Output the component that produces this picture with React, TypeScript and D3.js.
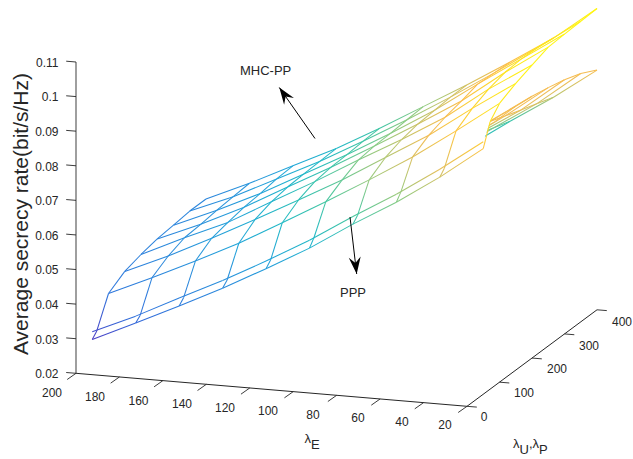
import React from "react";
import * as d3 from "d3";

const lambdaE = [200, 180, 160, 140, 120, 100, 80, 60, 40, 20];
const eTicks = lambdaE;
const uTicks = [0, 100, 200, 300, 400];
const zTicks = [0.02, 0.03, 0.04, 0.05, 0.06, 0.07, 0.08, 0.09, 0.1, 0.11];

// MHC-PP surface, one list per lambda_U,lambda_P row, ordered as lambdaE
const rowU100 = [0.0361, 0.0417, 0.0476, 0.0538, 0.0608, 0.0679, 0.0753, 0.083, 0.0916, 0.1006];
const rowU150 = [0.039, 0.0445, 0.0507, 0.0572, 0.0639, 0.0707, 0.0783, 0.0858, 0.0946, 0.1029];
const rowU200 = [0.0404, 0.0463, 0.0518, 0.0588, 0.0657, 0.073, 0.08, 0.0875, 0.0967, 0.1047];
const rowU250 = [0.0414, 0.0467, 0.0527, 0.0596, 0.0664, 0.0736, 0.081, 0.0887, 0.098, 0.1064];
const rowU300 = [0.0419, 0.0473, 0.0532, 0.0599, 0.0666, 0.0738, 0.0814, 0.0901, 0.0984, 0.1067];
const rowU350 = [0.0425, 0.0477, 0.0539, 0.0601, 0.067, 0.0742, 0.0818, 0.0898, 0.0982, 0.1069];
const rowU400 = [0.0425, 0.0481, 0.0542, 0.0603, 0.0672, 0.0745, 0.0818, 0.0895, 0.0975, 0.1071];
const meshRows = [rowU100, rowU150, rowU200, rowU250, rowU300, rowU350, rowU400];
const meshUs = [100, 150, 200, 250, 300, 350, 400];

// front edges at lambda_U,lambda_P = 50
const frontPPP = [0.0263, 0.0321, 0.0381, 0.0443, 0.051, 0.058, 0.066, 0.0734, 0.0817, 0.091];
const frontMHC = [0.0285, 0.0341, 0.0404, 0.0465, 0.0532, 0.0603, 0.0682, 0.0757, 0.084, 0.093];
const jointU = [64, 64, 64, 64, 64, 64, 64, 64, 64, 71];
const jointZ = [0.0278, 0.0334, 0.0396, 0.0457, 0.0525, 0.0601, 0.0675, 0.0754, 0.0833, 0.0973];

// part of the PPP surface seen past the MHC-PP surface: lambda_E = 80, 60, 40, 20
const pppE = [80, 60, 40, 20];
const pppUs = [86, 150, 200, 250, 300, 350, 400];
const pppU86 = [0.0713, 0.0796, 0.0879, 0.0963];
const pppU150 = [0.07, 0.0798, 0.0878, 0.0963];
const pppU200 = [0.0694, 0.0786, 0.0872, 0.0957];
const pppU250 = [0.0683, 0.0768, 0.0854, 0.0947];
const pppU300 = [0.0677, 0.0757, 0.0837, 0.0935];
const pppU350 = [0.0659, 0.074, 0.0821, 0.0918];
const pppU400 = [0.0639, 0.0724, 0.0804, 0.0893];
const pppRows = [pppU86, pppU150, pppU200, pppU250, pppU300, pppU350, pppU400];
const shadeU86 = [0.078, 0.083, 0.087, 0.087];
const shadeU150 = [0.076, 0.082, 0.087, 0.087];
const shadeU200 = [0.074, 0.08, 0.086, 0.087];
const shadeU250 = [0.072, 0.077, 0.085, 0.087];
const shadeU300 = [0.068, 0.074, 0.084, 0.087];
const shadeU350 = [0.065, 0.072, 0.082, 0.087];
const shadeU400 = [0.06, 0.066, 0.079, 0.087];
const shadeRows = [shadeU86, shadeU150, shadeU200, shadeU250, shadeU300, shadeU350, shadeU400];

const colorZ = [0.0263, 0.033, 0.045, 0.055, 0.062, 0.068, 0.074, 0.08, 0.085, 0.09, 0.094, 0.097, 0.105];
const colorHex = ["#4b3cc4", "#2f6fdc", "#2a8bdc", "#1fa8d8", "#20bcc0", "#45c6a0", "#8acb82", "#c0c46a", "#f0bc55", "#fdbd45", "#fdd030", "#fde020", "#fff510"];

const W = 633;
const H = 459;
const color = d3.scaleLinear<string>().domain(colorZ).range(colorHex).clamp(true);
const eX = d3.scaleLinear().domain([200, 20]).range([0, 391]);
const eY = d3.scaleLinear().domain([200, 20]).range([0, 33]);
const uX = d3.scaleLinear().domain([0, 400]).range([0, 130]);
const uY = d3.scaleLinear().domain([0, 400]).range([0, -96.5]);
const zY = d3.scaleLinear().domain([0.02, 0.11]).range([373.3, 62]);
const X0 = 76;

type P = [number, number];
const proj = (e: number, u: number, z: number): P => [X0 + eX(e) + uX(u), zY(z) + eY(e) + uY(u)];

type Seg = { a: P; b: P; ca: string; cb: string };
const segsOf = (pts: P[], cs: string[]): Seg[] =>
  pts.slice(1).map((b, i) => ({ a: pts[i], b, ca: cs[i], cb: cs[i + 1] }));

const ink = "#262626";
const font = "'Liberation Sans', Arial, sans-serif";

function arrowHead(base: P, tip: P, len: number, half: number, notch: number) {
  const dx = tip[0] - base[0];
  const dy = tip[1] - base[1];
  const d = Math.hypot(dx, dy);
  const ux = dx / d;
  const uy = dy / d;
  const backX = tip[0] - ux * len;
  const backY = tip[1] - uy * len;
  const n: P = [tip[0] - ux * notch, tip[1] - uy * notch];
  const l: P = [backX - uy * half, backY + ux * half];
  const r: P = [backX + uy * half, backY - ux * half];
  return d3.line()([tip, l, n, r]) + "Z";
}

export default function App() {
  const lineGen = d3.line();

  // upper mesh
  const upper: Seg[] = [];
  meshRows.forEach((row, ri) => {
    upper.push(...segsOf(lambdaE.map((e, i) => proj(e, meshUs[ri], row[i])), row.map((z) => color(z))));
  });
  upper.push(...segsOf(lambdaE.map((e, i) => proj(e, 50, frontMHC[i])), frontMHC.map((z) => color(z))));
  upper.push(...segsOf(lambdaE.map((e, i) => proj(e, 50, frontPPP[i])), frontPPP.map((z) => color(z))));
  lambdaE.forEach((e, i) => {
    const zs = [frontPPP[i], jointZ[i], ...meshRows.map((r) => r[i])];
    const us = [50, jointU[i], ...meshUs];
    upper.push(...segsOf(zs.map((z, k) => proj(e, us[k], z)), zs.map((z) => color(z))));
  });

  // PPP fan
  const ppp: Seg[] = [];
  pppUs.forEach((u, r) => {
    ppp.push(...segsOf(pppE.map((e, i) => proj(e, u, pppRows[r][i])), shadeRows[r].map((z) => color(z))));
  });
  pppE.forEach((e, i) => {
    if (e === 80) return;
    ppp.push(...segsOf(pppUs.map((u, r) => proj(e, u, pppRows[r][i])), shadeRows.map((s) => color(s[i]))));
  });

  // white face of the upper surface that hides the PPP surface behind it
  const outline: P[] = [
    ...lambdaE.map((e, i) => proj(e, 50, frontMHC[i])),
    proj(20, jointU[9], jointZ[9]),
    ...meshUs.map((u, k) => proj(20, u, meshRows[k][9])),
    ...lambdaE.slice().reverse().map((e) => proj(e, 400, rowU400[lambdaE.indexOf(e)])),
    ...meshUs.slice().reverse().map((u, k) => proj(200, u, meshRows[6 - k][0])),
  ];

  const all = [...ppp, ...upper];

  const corner0 = proj(200, 0, 0.02);
  const corner1 = proj(20, 0, 0.02);
  const corner2 = proj(20, 400, 0.02);
  const zTop = proj(200, 0, 0.11);

  const xLabelPos: P[] = [[52, 393], [95, 397], [138.5, 400.3], [182, 404], [225, 407.7], [268, 411], [313, 415], [358, 418], [402, 422], [445, 425]];
  const uLabelPos: P[] = [[484, 417], [524, 393], [557, 369], [589, 345.6], [622, 322]];

  const base1: P = [315, 138.5];
  const tip1: P = [279.3, 87.5];
  const base2: P = [350, 217];
  const tip2: P = [356.7, 274];
  const sw = 1.05;

  return (
    <svg width={W} height={H} viewBox={`0 0 ${W} ${H}`} style={{ position: "absolute", left: 0, top: 0, background: "#fff" }} fontFamily={font}>
      <defs>
        {all.map((s, i) => (
          <linearGradient key={i} id={`g${i}`} gradientUnits="userSpaceOnUse" x1={s.a[0]} y1={s.a[1]} x2={s.b[0] + 0.001} y2={s.b[1] + 0.001}>
            <stop offset="0" stopColor={s.ca} />
            <stop offset="1" stopColor={s.cb} />
          </linearGradient>
        ))}
      </defs>

      <line x1={zTop[0]} y1={zTop[1]} x2={corner0[0]} y2={corner0[1]} stroke="#8e8e8e" strokeWidth={1.7} />
      <line x1={corner0[0]} y1={corner0[1]} x2={corner1[0]} y2={corner1[1]} stroke={ink} strokeWidth={1} />
      <line x1={corner1[0]} y1={corner1[1]} x2={corner2[0]} y2={corner2[1]} stroke={ink} strokeWidth={1} />

      {zTicks.map((t) => {
        const p = proj(200, 0, t);
        return (
          <g key={t}>
            <line x1={p[0]} y1={p[1]} x2={p[0] - 9.8} y2={p[1] - 0.8} stroke={ink} strokeWidth={0.9} />
            <text x={58.5} y={p[1] + 0.7} dy="0.35em" textAnchor="end" fontSize={12} fill={ink}>{String(t)}</text>
          </g>
        );
      })}
      {eTicks.map((t, i) => {
        const p = proj(t, 0, 0.02);
        return (
          <g key={t}>
            <line x1={p[0]} y1={p[1]} x2={p[0] - 8.8} y2={p[1] + 6.2} stroke={ink} strokeWidth={0.9} />
            <text x={xLabelPos[i][0]} y={xLabelPos[i][1]} dy="0.35em" textAnchor="middle" fontSize={12} fill={ink}>{t}</text>
          </g>
        );
      })}
      {uTicks.map((t, i) => {
        const p = proj(20, t, 0.02);
        return (
          <g key={t}>
            <line x1={p[0]} y1={p[1]} x2={p[0] + 9.8} y2={p[1] + 0.8} stroke={ink} strokeWidth={0.9} />
            <text x={uLabelPos[i][0]} y={uLabelPos[i][1]} dy="0.35em" textAnchor="middle" fontSize={12} fill={ink}>{t}</text>
          </g>
        );
      })}

      {ppp.map((s, i) => (
        <path key={"p" + i} d={lineGen([s.a, s.b]) as string} stroke={`url(#g${i})`} strokeWidth={sw} fill="none" />
      ))}
      <path d={(lineGen(outline) as string) + "Z"} fill="#fff" stroke="none" />
      {upper.map((s, i) => (
        <path key={"u" + i} d={lineGen([s.a, s.b]) as string} stroke={`url(#g${i + ppp.length})`} strokeWidth={sw} fill="none" />
      ))}

      <text transform="translate(28,214) rotate(-90)" textAnchor="middle" fontSize={21} fill={ink}>Average secrecy rate(bit/s/Hz)</text>
      <text x={304.5} y={443} fontSize={13} fill={ink}>λ<tspan dy={6}>E</tspan></text>
      <text x={513} y={448} fontSize={13} fill={ink}>λ<tspan dy={6}>U</tspan><tspan dy={-6}>,λ</tspan><tspan dy={6}>P</tspan></text>

      <text x={240} y={75} fontSize={13} fill={ink}>MHC-PP</text>
      <text x={340} y={297} fontSize={13} fill={ink}>PPP</text>
      <line x1={base1[0]} y1={base1[1]} x2={tip1[0]} y2={tip1[1]} stroke="#000" strokeWidth={1} />
      <path d={arrowHead(base1, tip1, 17, 6, 11)} fill="#000" />
      <line x1={base2[0]} y1={base2[1]} x2={tip2[0]} y2={tip2[1]} stroke="#000" strokeWidth={1} />
      <path d={arrowHead(base2, tip2, 17, 6, 11)} fill="#000" />
    </svg>
  );
}
